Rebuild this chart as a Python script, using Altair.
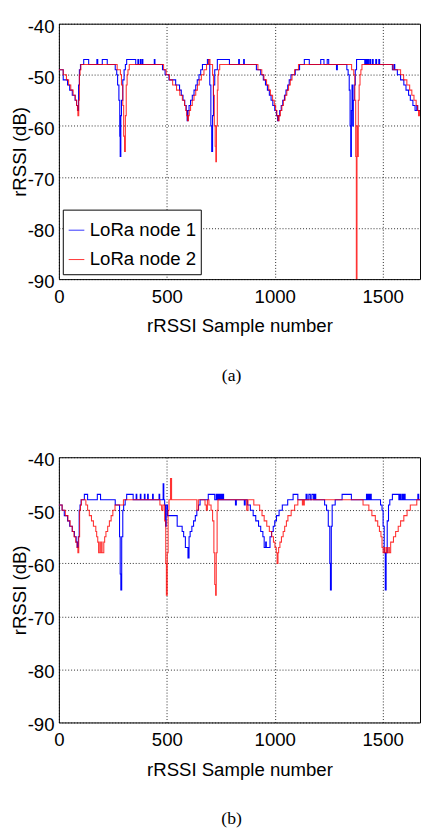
import altair as alt
import pandas as pd

SERIES = ["LoRa node 1", "LoRa node 2"]
COLORS = ["#0000ff", "#ff0000"]
X_TICKS = [0, 500, 1000, 1500]
Y_TICKS = [-90, -80, -70, -60, -50, -40]
X_MAX = 1673

# ---------- panel (a) ----------
a_node1_x = [0, 20, 40, 50, 62, 75, 82, 87, 91, 95, 100, 115, 138, 176, 180, 201, 224, 261, 268, 272, 278, 282, 284, 287, 290, 296, 302, 308, 314, 356, 366, 369, 377, 380, 386, 389, 442, 445,
             480, 492, 510, 541, 559, 567, 575, 583, 590, 594, 598, 603, 610, 618, 626, 634, 641, 649, 657, 665, 688, 695, 699, 704, 708, 712, 716, 722, 734, 790, 833, 836, 856, 859,
             915, 935, 947, 957, 966, 975, 983, 991, 1000, 1008, 1013, 1018, 1023, 1030, 1037, 1045, 1052, 1060, 1067, 1075, 1095, 1115, 1137, 1160, 1213, 1228, 1243, 1250, 1286, 1290,
             1334, 1340, 1345, 1349, 1352, 1355, 1358, 1361, 1364, 1368, 1373, 1379, 1417, 1422, 1426, 1430, 1434, 1440, 1444, 1452, 1456, 1468, 1472, 1482, 1486,
             1545, 1552, 1556, 1568, 1583, 1598, 1608, 1620, 1628, 1640, 1650, 1658, 1662, 1673]
a_node1_y = [-49, -51, -52, -53, -54, -55, -56, -57, -52, -49, -48, -47, -48, -47, -48, -47, -48, -49, -50, -52, -55, -62, -66, -58, -55, -51, -49, -48, -47, -48, -47, -48, -47, -48, -47, -48, -47, -48,
             -49, -50, -51, -52, -53, -54, -55, -56, -57, -59, -57, -56, -55, -54, -53, -52, -51, -50, -49, -48, -47, -48, -52, -60, -65, -58, -52, -49, -47, -48, -47, -48, -47, -48,
             -49, -50, -51, -52, -53, -54, -55, -56, -57, -58, -59, -58, -57, -56, -55, -54, -53, -52, -51, -50, -49, -48, -47, -48, -47, -48, -47, -48, -49, -48,
             -49, -50, -53, -60, -66, -57, -52, -60, -55, -52, -49, -47, -48, -47, -48, -47, -48, -47, -48, -47, -48, -47, -48, -47, -48,
             -49, -48, -49, -50, -51, -52, -53, -54, -55, -56, -57, -56, -57, -57]

a_node2_x = [0, 20, 35, 45, 55, 66, 76, 82, 86, 88, 92, 95, 98, 102, 270, 285, 290, 296, 300, 304, 308, 312, 316, 320, 326,
             485, 497, 512, 527, 545, 560, 572, 582, 588, 592, 596, 600, 604, 610, 618, 626, 634, 642, 650, 660, 672, 684, 694, 700, 712, 716, 720, 724, 727, 730, 734, 737, 740, 745,
             922, 940, 950, 962, 972, 980, 990, 998, 1004, 1010, 1015, 1020, 1026, 1033, 1040, 1048, 1056, 1064, 1072, 1080, 1092, 1110,
             1356, 1366, 1371, 1375, 1378, 1381, 1384, 1387, 1391, 1395, 1399, 1404,
             1548, 1583, 1597, 1612, 1625, 1635, 1645, 1655, 1662, 1666, 1669, 1671, 1673]
a_node2_y = [-49, -50, -51, -52, -53, -54, -55, -56, -57, -58, -55, -50, -49, -48, -49, -50, -52, -56, -62, -65, -58, -52, -50, -49, -48,
             -49, -50, -51, -52, -53, -54, -55, -56, -57, -58, -59, -58, -57, -56, -55, -54, -53, -52, -51, -50, -49, -48, -47, -48, -50, -54, -60, -64, -67, -60, -53, -50, -49, -48,
             -49, -50, -51, -52, -53, -54, -55, -56, -57, -58, -59, -58, -57, -56, -55, -54, -53, -52, -51, -50, -49, -48,
             -49, -50, -55, -66, -90, -60, -66, -55, -52, -50, -49, -48,
             -49, -50, -51, -52, -53, -54, -55, -56, -57, -58, -57, -58, -58]

# ---------- panel (b) ----------
b_node1_x = [0, 15, 25, 40, 50, 62, 72, 80, 85, 90, 94, 98, 103, 118, 133, 178, 193, 261, 281, 284, 287, 291, 296, 300, 307, 314, 344, 358, 361, 377, 380, 396, 399, 411, 414, 434, 437, 464, 467,
             483, 486, 490, 494, 497, 503, 548, 571, 578, 586, 598, 603, 608, 616, 624, 632, 639, 647, 654, 692, 722, 729, 732, 736, 739, 744, 747, 752, 755, 760, 763, 818, 822, 859, 863,
             873, 887, 900, 912, 925, 935, 945, 951, 958, 961, 978, 985, 993, 1000, 1008, 1020, 1035, 1060, 1085, 1107, 1145, 1150, 1158, 1165, 1172, 1180, 1185, 1190,
             1231, 1240, 1248, 1255, 1258, 1262, 1266, 1280, 1312, 1355, 1425, 1430, 1434, 1439, 1443, 1447,
             1490, 1497, 1502, 1507, 1512, 1516, 1521, 1527, 1533, 1545, 1575, 1580, 1584, 1590, 1595, 1600, 1604, 1663, 1667, 1673]
b_node1_y = [-49, -50, -51, -52, -53, -54, -55, -56, -57, -55, -50, -49, -48, -47, -48, -47, -48, -49, -55, -62, -65, -55, -50, -49, -48, -47, -48, -47, -48, -47, -48, -47, -48, -47, -48, -47, -48, -47, -48,
             -45, -48, -49, -53, -49, -51, -53, -54, -55, -57, -59, -55, -54, -53, -52, -51, -50, -49, -48, -47, -48, -47, -48, -47, -48, -47, -48, -47, -48, -47, -48, -49, -48, -49, -48,
             -49, -50, -51, -52, -53, -54, -55, -57, -56, -57, -55, -54, -53, -52, -51, -50, -49, -48, -47, -48, -47, -48, -47, -48, -47, -48, -47, -48,
             -49, -50, -53, -60, -65, -53, -49, -48, -47, -48, -47, -48, -47, -48, -47, -48,
             -49, -50, -53, -58, -65, -58, -52, -49, -48, -47, -48, -47, -48, -47, -48, -47, -48, -47, -48, -48]

b_node2_x = [0, 15, 30, 42, 52, 62, 70, 78, 84, 88, 92, 96, 100, 104, 125, 133, 141, 151, 160, 171, 175, 180, 184, 190, 192, 198, 200, 208, 212, 218, 226, 234, 242, 250, 260, 299,
             468, 476, 482, 490, 495, 498, 502, 506, 510, 517, 522, 639, 646, 677, 683, 688, 695, 705, 712, 718, 722, 726, 729, 733, 737, 870, 876,
             903, 930, 941, 951, 963, 975, 986, 994, 1001, 1007, 1011, 1015, 1018, 1024, 1031, 1039, 1046, 1054, 1061, 1076, 1092, 1107, 1128, 1131, 1134, 1137,
             1409, 1436, 1450, 1466, 1477, 1485, 1492, 1497, 1502, 1508, 1511, 1518, 1521, 1528, 1531, 1537, 1550, 1560, 1572, 1583, 1598, 1613, 1628, 1658, 1673]
b_node2_y = [-49, -50, -51, -52, -53, -54, -55, -56, -57, -58, -55, -50, -49, -48, -49, -50, -51, -52, -53, -54, -55, -56, -58, -56, -58, -56, -58, -56, -55, -54, -53, -52, -51, -50, -49, -48,
             -49, -50, -49, -52, -60, -66, -58, -50, -48, -44, -48, -50, -48, -49, -50, -48, -49, -50, -52, -58, -64, -66, -58, -50, -48, -50, -48,
             -49, -50, -51, -52, -53, -54, -55, -56, -57, -58, -60, -58, -57, -56, -55, -54, -53, -52, -51, -50, -49, -48, -49, -48, -49, -48,
             -49, -50, -51, -52, -53, -54, -55, -57, -58, -57, -58, -57, -58, -57, -58, -56, -55, -54, -53, -52, -51, -50, -49, -48, -48]

PLOT_W = 369
FONT = "Liberation Sans"


def panel(n1x, n1y, n2x, n2y, caption, with_legend, plot_h):
    d1 = pd.DataFrame({"sample": n1x, "rssi": n1y, "node": SERIES[0]})
    d2 = pd.DataFrame({"sample": n2x, "rssi": n2y, "node": SERIES[1]})
    x = alt.X("sample:Q",
              scale=alt.Scale(domain=[0, X_MAX], nice=False, zero=False),
              axis=alt.Axis(values=X_TICKS, title="rRSSI Sample number",
                            labelExpr="datum.value + ''"))
    y = alt.Y("rssi:Q",
              scale=alt.Scale(domain=[-90, -40], nice=False, zero=False),
              axis=alt.Axis(values=Y_TICKS, title="rRSSI (dB)",
                            labelExpr="datum.value + ''"))
    if with_legend:
        leg = alt.Legend(title=" ", orient="none", legendX=4, legendY=plot_h - 71,
                         direction="vertical", symbolType="stroke", symbolSize=256,
                         symbolStrokeWidth=1, labelFont=FONT, labelFontSize=19,
                         labelColor="black", labelOffset=4, padding=4.5, rowPadding=10,
                         strokeColor="black", fillColor="white", titleFontSize=7,
                         titlePadding=0, cornerRadius=0)
        color = alt.Color("node:N", scale=alt.Scale(domain=SERIES, range=COLORS), legend=leg)
    else:
        color = alt.Color("node:N", scale=alt.Scale(domain=SERIES, range=COLORS), legend=None)
    l1 = alt.Chart(d1).mark_line(interpolate="step-after", strokeWidth=1.1, clip=True).encode(
        x=x, y=y, color=color)
    l2 = alt.Chart(d2).mark_line(interpolate="step-after", strokeWidth=1.1, opacity=0.8, clip=True).encode(
        x=x, y=y, color=color)
    return alt.layer(l1, l2).properties(
        width=PLOT_W, height=plot_h,
        title=alt.Title(caption, orient="bottom", anchor="middle", frame="group",
                        font="Liberation Serif", fontSize=18, fontWeight="normal",
                        color="black", baseline="alphabetic", offset=46, dx=-8))


top = panel(a_node1_x, a_node1_y, a_node2_x, a_node2_y, "(a)", True, 261)
bottom = panel(b_node1_x, b_node1_y, b_node2_x, b_node2_y, "(b)", False, 271)

chart = alt.vconcat(top, bottom, spacing=66).resolve_scale(color="independent").resolve_legend(
    color="independent").properties(padding={"left": 2, "top": 0, "right": 0, "bottom": 0}).configure_view(
    stroke="black", strokeWidth=1).configure_axis(
    domain=False, ticks=False, grid=True, gridColor="black", gridDash=[1, 2], gridWidth=1,
    gridOpacity=0.85, labelFont=FONT, labelFontSize=19, labelColor="black",
    titleFont=FONT, titleFontSize=19, titleFontWeight="normal", titleColor="black",
    labelFlush=False).configure_axisX(
    labelBaseline="alphabetic", labelPadding=24, titleBaseline="alphabetic", titleY=54).configure_axisY(
    labelBaseline="alphabetic", labelOffset=8.5, labelPadding=5, titleBaseline="alphabetic", titleX=-34)

chart.save("out.html", embed_options={"renderer": "svg", "actions": False})
